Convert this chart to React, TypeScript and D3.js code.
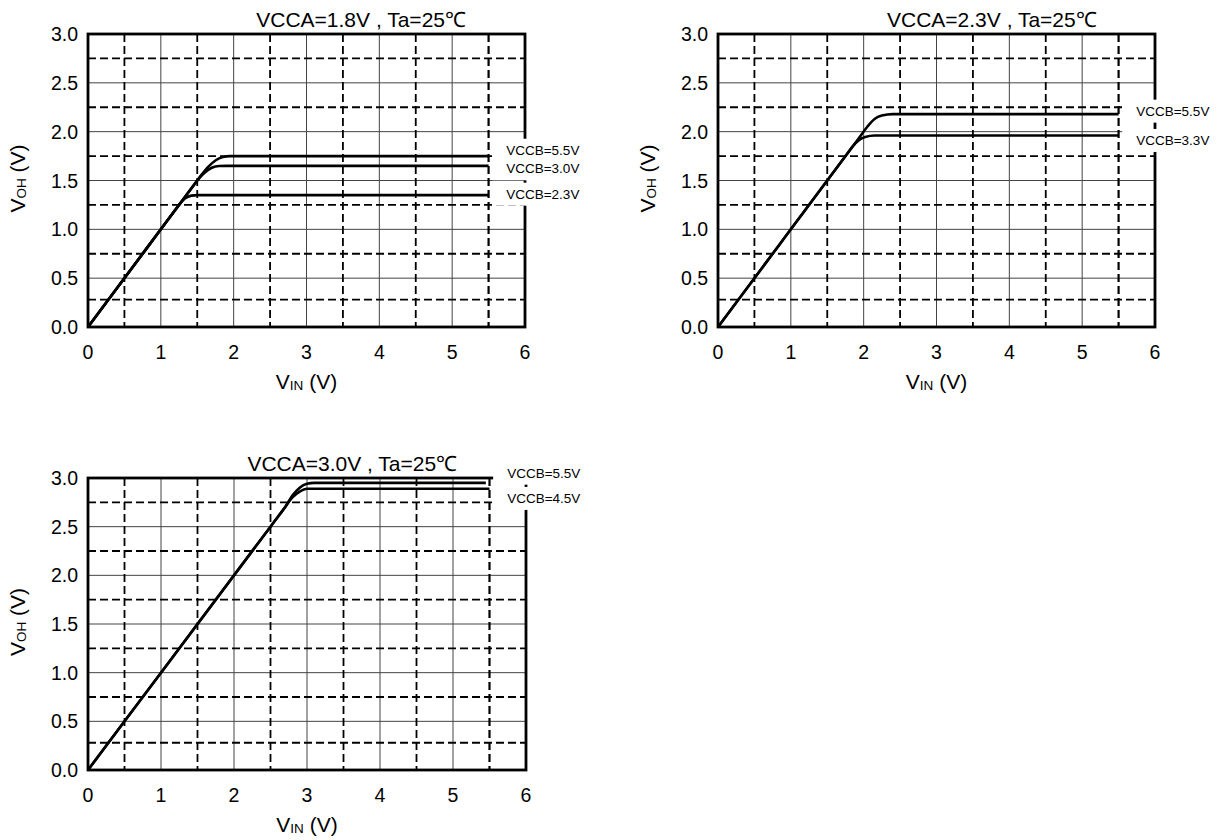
import React from 'react';
import * as d3 from 'd3';

// axis ticks and grid positions (volts)
const xTicks = [0, 1, 2, 3, 4, 5, 6];
const yTicks = [0, 0.5, 1, 1.5, 2, 2.5, 3];
const xSolid = [1, 2, 3, 4, 5];
const xDashed = [0.5, 1.5, 2.5, 3.5, 4.5, 5.5];
const ySolid = [0.5, 1, 1.5, 2, 2.5];
const yDashed = [0.28, 0.75, 1.25, 1.75, 2.25, 2.75];

// VCCA = 1.8V
const title18 = 'VCCA=1.8V , Ta=25℃';
const names18 = ['VCCB=5.5V', 'VCCB=3.0V', 'VCCB=2.3V'];
const labelY18 = [1.81, 1.62, 1.36];
const vcca18vccb55: [number, number][] = [[0, 0], [1, 1], [1.5, 1.5], [1.55, 1.55], [1.65, 1.64], [1.75, 1.705], [1.85, 1.74], [1.95, 1.75], [5.5, 1.75]];
const vcca18vccb30: [number, number][] = [[0, 0], [1, 1], [1.45, 1.45], [1.5, 1.5], [1.6, 1.58], [1.7, 1.63], [1.8, 1.648], [1.9, 1.65], [5.5, 1.65]];
const vcca18vccb23: [number, number][] = [[0, 0], [1, 1], [1.2, 1.2], [1.25, 1.25], [1.33, 1.315], [1.42, 1.345], [1.5, 1.35], [5.5, 1.35]];

// VCCA = 2.3V
const title23 = 'VCCA=2.3V , Ta=25℃';
const names23 = ['VCCB=5.5V', 'VCCB=3.3V'];
const labelY23 = [2.21, 1.91];
const vcca23vccb55: [number, number][] = [[0, 0], [1, 1], [1.9, 1.9], [1.95, 1.95], [2.05, 2.05], [2.15, 2.13], [2.25, 2.165], [2.4, 2.18], [5.5, 2.18]];
const vcca23vccb33: [number, number][] = [[0, 0], [1, 1], [1.8, 1.8], [1.85, 1.85], [1.93, 1.91], [2.02, 1.945], [2.15, 1.96], [5.5, 1.96]];

// VCCA = 3.0V
const title30 = 'VCCA=3.0V , Ta=25℃';
const names30 = ['VCCB=5.5V', 'VCCB=4.5V'];
const labelY30 = [3.05, 2.79];
const vcca30vccb55: [number, number][] = [[0, 0], [1, 1], [2.5, 2.5], [2.6, 2.6], [2.7, 2.7], [2.8, 2.82], [2.9, 2.9], [3.0, 2.94], [3.1, 2.95], [5.45, 2.95]];
const vcca30vccb45: [number, number][] = [[0, 0], [1, 1], [2.5, 2.5], [2.6, 2.6], [2.7, 2.7], [2.8, 2.8], [2.9, 2.86], [3.0, 2.89], [5.5, 2.89]];

const font = 'Liberation Sans, Arial, sans-serif';

type PanelProps = {
  left: number; right: number; top: number; bottom: number;
  title: string; titleX: number;
  names: string[]; labelY: number[]; series: [number, number][][];
};

function Panel({ left, right, top, bottom, title, titleX, names, labelY, series }: PanelProps) {
  const x = d3.scaleLinear().domain([0, 6]).range([left, right]);
  const y = d3.scaleLinear().domain([0, 3]).range([bottom, top]);
  const line = d3.line<[number, number]>()
    .x(d => x(d[0]))
    .y(d => y(d[1]))
    .curve(d3.curveMonotoneX);
  const boxX = x(5.55);

  return (
    <g>
      {/* grid */}
      {xSolid.map(v => (
        <line key={'xs' + v} x1={x(v)} x2={x(v)} y1={top} y2={bottom} stroke="#444" strokeWidth={1} />
      ))}
      {ySolid.map(v => (
        <line key={'ys' + v} x1={left} x2={right} y1={y(v)} y2={y(v)} stroke="#444" strokeWidth={1} />
      ))}
      {xDashed.map(v => (
        <line key={'xd' + v} x1={x(v)} x2={x(v)} y1={top} y2={bottom} stroke="#000"
          strokeWidth={v === 5.5 ? 2.2 : 1.8} strokeDasharray="8,4" />
      ))}
      {yDashed.map(v => (
        <line key={'yd' + v} x1={left} x2={right} y1={y(v)} y2={y(v)} stroke="#000" strokeWidth={1.8} strokeDasharray="8,4" />
      ))}

      {/* frame */}
      <rect x={left} y={top} width={right - left} height={bottom - top} fill="none" stroke="#000" strokeWidth={2.8} />

      {/* curves */}
      {series.map((s, i) => (
        <path key={'c' + i} d={line(s) || ''} fill="none" stroke="#000" strokeWidth={2.6} />
      ))}

      {/* series labels on white boxes */}
      {names.map((n, i) => (
        <g key={'l' + i}>
          <rect x={boxX} y={y(labelY[i]) - 11.5} width={92} height={23} fill="#fff" />
          <text x={x(5.55) + 14} y={y(labelY[i])} dominantBaseline="central" fontSize={13.5} fontFamily={font}>{n}</text>
        </g>
      ))}

      {/* tick labels */}
      {yTicks.map(v => (
        <text key={'yt' + v} x={left - 10} y={y(v)} textAnchor="end" dominantBaseline="central"
          fontSize={19.5} fontFamily={font}>{v.toFixed(1)}</text>
      ))}
      {xTicks.map(v => (
        <text key={'xt' + v} x={x(v)} y={bottom + 25} textAnchor="middle" dominantBaseline="central"
          fontSize={19.5} fontFamily={font}>{v}</text>
      ))}

      {/* title */}
      <text x={x(titleX)} y={top - 15} textAnchor="middle" dominantBaseline="central" fontSize={21} fontFamily={font}>{title}</text>

      {/* axis titles */}
      <text x={(left + right) / 2} y={bottom + 54} textAnchor="middle" dominantBaseline="central" fontSize={21} fontFamily={font}>
        V<tspan fontSize={13.5} dy={4}>IN</tspan><tspan dy={-4}> (V)</tspan>
      </text>
      <text transform={`translate(${left - 71},${(top + bottom) / 2 - 2}) rotate(-90)`} textAnchor="middle"
        dominantBaseline="central" fontSize={21} fontFamily={font}>
        V<tspan fontSize={13.5} dy={4}>OH</tspan><tspan dy={-4}> (V)</tspan>
      </text>
    </g>
  );
}

export default function App() {
  return (
    <svg width={1226} height={840} style={{ position: 'absolute', left: 0, top: 0, background: '#fff' }}>
      <Panel left={88} right={525} top={34} bottom={327} title={title18} titleX={3.75}
        names={names18} labelY={labelY18} series={[vcca18vccb55, vcca18vccb30, vcca18vccb23]} />
      <Panel left={718} right={1155} top={34} bottom={327} title={title23} titleX={3.76}
        names={names23} labelY={labelY23} series={[vcca23vccb55, vcca23vccb33]} />
      <Panel left={88} right={526} top={478} bottom={770} title={title30} titleX={3.62}
        names={names30} labelY={labelY30} series={[vcca30vccb55, vcca30vccb45]} />
    </svg>
  );
}
